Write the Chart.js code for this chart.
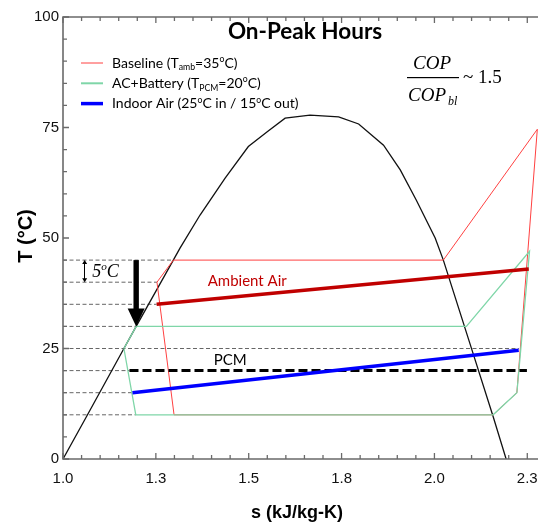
<!DOCTYPE html>
<html>
<head>
<meta charset="utf-8">
<script src="https://cdn.jsdelivr.net/npm/chart.js@4.4.1/dist/chart.umd.min.js"></script>
<style>
  html, body { margin: 0; padding: 0; background: #fff; overflow: hidden; }
  #wrap { width: 538px; height: 526px; overflow: hidden; }
</style>
</head>
<body>
<div id="wrap"><canvas id="tsChart" width="600" height="526"></canvas></div>
<script>
// saturation dome (s in kJ/kg-K, T in C)
const domeS = [1.0, 1.066, 1.164, 1.197, 1.297, 1.315, 1.369, 1.436, 1.499, 1.549, 1.598, 1.665, 1.742, 1.796, 1.863, 1.908, 1.951, 2.002, 2.024, 2.101, 2.158, 2.193];
const domeT = [0, 10, 25, 30, 45, 47.7, 55.2, 63.5, 70.7, 74.0, 77.1, 77.8, 77.4, 75.8, 71.0, 65.4, 58.6, 50, 45, 24.7, 9.6, 0];

// baseline cycle (T_amb = 35C)
const baseS = [1.297, 2.024, 2.277, 2.222, 2.158, 1.299, 1.253, 1.297];
const baseT = [45, 45, 74.6, 15, 10, 10, 40, 45];

// AC + battery cycle (T_PCM = 20C)
const acS = [1.164, 1.197, 2.086, 2.256, 2.222, 2.158, 1.196, 1.164];
const acT = [25, 30, 30, 47, 15, 10, 10, 25];

// air / PCM streams
const ambientS = [1.252, 2.254];
const ambientT = [35, 43];
const indoorS = [1.187, 2.227];
const indoorT = [15, 24.6];
const pcmS = [1.179, 2.249];
const pcmT = [20, 20];

// thin dashed guide lines from the T axis
const guideT = [45, 40, 35, 30, 25, 20, 15, 10];
const guideEndS = [1.297, 1.253, 1.252, 1.197, 2.227, 1.179, 1.187, 1.196];

// ticks
const xTickLabels = ["1.0", "1.3", "1.5", "1.8", "2.0", "2.3"];
const yTickLabels = ["0", "25", "50", "75", "100"];

// annotations
const drop = { s: 1.197, from: 45, to: 30 };        // big arrow
const band = { s: 1.057, from: 45, to: 40 };        // 5C bracket

function pts(xs, ys) {
  return xs.map((x, i) => ({ x: x, y: ys[i] }));
}

// guide segments separated by gaps
const guidePts = [];
guideT.forEach((t, i) => {
  guidePts.push({ x: 1.0, y: t }, { x: guideEndS[i], y: t }, { x: guideEndS[i], y: null });
});

// draws text made of normal / sub / sup pieces
function richText(ctx, parts, x, y, size, family, style) {
  let cx = x;
  ctx.textAlign = "left";
  ctx.textBaseline = "alphabetic";
  parts.forEach(([t, k]) => {
    const fs = k ? size * 0.62 : size;
    ctx.font = (style || "") + " " + fs + "px " + family;
    const dy = k === "sub" ? size * 0.2 : k === "sup" ? -size * 0.38 : 0;
    ctx.fillText(t, cx, y + dy);
    cx += ctx.measureText(t).width;
  });
  return cx;
}

const legendItems = [
  { color: "#ff4040", width: 1, parts: [["Baseline (T", ""], ["amb", "sub"], ["=35", ""], ["o", "sup"], ["C)", ""]] },
  { color: "#7fd6a8", width: 2, parts: [["AC+Battery (T", ""], ["PCM", "sub"], ["=20", ""], ["o", "sup"], ["C)", ""]] },
  { color: "#0000ff", width: 3.5, parts: [["Indoor Air (25", ""], ["o", "sup"], ["C in / 15", ""], ["o", "sup"], ["C out)", ""]] },
];

const decor = {
  id: "decor",
  afterDatasetsDraw(chart) {
    const ctx = chart.ctx;
    const xs = chart.scales.x, ys = chart.scales.y;
    ctx.save();
    ctx.setLineDash([]);

    // frame (left, bottom, top) with inward ticks
    const L = xs.getPixelForValue(1.0);
    const R = xs.getPixelForValue(2.4);
    const B = ys.getPixelForValue(0);
    const T = ys.getPixelForValue(100);
    ctx.strokeStyle = "#6a6a6a";
    ctx.lineWidth = 1.6;
    ctx.beginPath();
    ctx.moveTo(R, T);
    ctx.lineTo(L, T);
    ctx.lineTo(L, B);
    ctx.lineTo(R, B);
    ctx.stroke();
    ctx.lineWidth = 1.3;
    ctx.beginPath();
    for (let i = 0; i <= 28; i++) {
      const px = xs.getPixelForValue(1.0 + i * 0.05);
      const len = i % 5 === 0 ? 6 : 4;
      ctx.moveTo(px, B); ctx.lineTo(px, B - len);
      ctx.moveTo(px, T); ctx.lineTo(px, T + len);
    }
    for (let i = 0; i <= 20; i++) {
      const py = ys.getPixelForValue(i * 5);
      const len = i % 5 === 0 ? 6 : 4;
      ctx.moveTo(L, py); ctx.lineTo(L + len, py);
    }
    ctx.stroke();

    // big arrow
    const ax = xs.getPixelForValue(drop.s);
    const ay0 = ys.getPixelForValue(drop.from);
    const ay1 = ys.getPixelForValue(drop.to);
    ctx.fillStyle = "#000";
    ctx.fillRect(ax - 2.7, ay0, 5.4, ay1 - ay0 - 17);
    ctx.beginPath();
    ctx.moveTo(ax - 8.5, ay1 - 18);
    ctx.lineTo(ax + 8.5, ay1 - 18);
    ctx.lineTo(ax, ay1);
    ctx.closePath();
    ctx.fill();

    // 5C bracket
    const bx = xs.getPixelForValue(band.s);
    const by0 = ys.getPixelForValue(band.from);
    const by1 = ys.getPixelForValue(band.to);
    ctx.fillRect(Math.round(bx), by0 + 2, 1, by1 - by0 - 4);
    ctx.beginPath();
    ctx.moveTo(bx + 0.5, by0); ctx.lineTo(bx - 2, by0 + 4); ctx.lineTo(bx + 3, by0 + 4); ctx.closePath();
    ctx.moveTo(bx + 0.5, by1); ctx.lineTo(bx - 2, by1 - 4); ctx.lineTo(bx + 3, by1 - 4); ctx.closePath();
    ctx.fill();
    richText(ctx, [["5", ""], ["o", "sup"], ["C", ""]], bx + 8, (by0 + by1) / 2 + 6, 18, "'Liberation Serif'", "italic");

    // curve labels
    ctx.textAlign = "center";
    ctx.textBaseline = "middle";
    ctx.font = "15px Lato";
    ctx.fillStyle = "#c00000";
    ctx.fillText("Ambient Air", xs.getPixelForValue(1.496), ys.getPixelForValue(40.3));
    ctx.fillStyle = "#000";
    ctx.fillText("PCM", xs.getPixelForValue(1.45), ys.getPixelForValue(22.4));

    ctx.restore();
  },
  afterDraw(chart) {
    const ctx = chart.ctx;
    ctx.save();

    // title
    ctx.fillStyle = "#000";
    ctx.textAlign = "center";
    ctx.textBaseline = "middle";
    ctx.font = "bold 22.5px Lato";
    ctx.fillText("On-Peak Hours", 305, 32);

    // axis titles
    ctx.font = "bold 18px 'Liberation Sans'";
    ctx.fillText("s (kJ/kg-K)", 297, 513);
    ctx.save();
    ctx.translate(26, 236);
    ctx.rotate(-Math.PI / 2);
    ctx.font = "bold 20px 'Liberation Sans'";
    ctx.fillText("T (\u00B0C)", 0, 0);
    ctx.restore();

    // legend
    legendItems.forEach((it, i) => {
      const ly = 63 + i * 20.3;
      ctx.setLineDash([]);
      ctx.strokeStyle = it.color;
      ctx.lineWidth = it.width;
      ctx.beginPath();
      ctx.moveTo(81, ly);
      ctx.lineTo(103, ly);
      ctx.stroke();
      ctx.fillStyle = "#000";
      richText(ctx, it.parts, 112, ly + 4.5, 14, "Lato", "");
    });

    // COP ratio
    ctx.fillStyle = "#000";
    ctx.font = "italic 19px 'Liberation Serif'";
    ctx.textAlign = "left";
    ctx.textBaseline = "alphabetic";
    ctx.fillText("COP", 413, 69);
    ctx.fillRect(407, 77, 52, 1.2);
    ctx.fillText("COP", 408, 101);
    ctx.font = "italic 12px 'Liberation Serif'";
    ctx.fillText("bl", 448, 105);
    ctx.font = "19px 'Liberation Serif'";
    ctx.fillText("~ 1.5", 463, 83);

    ctx.restore();
  }
};

const ctx1 = document.getElementById("tsChart").getContext("2d");

const tsChart = new Chart(ctx1, {
  type: "scatter",
  data: {
    datasets: [
      { data: pts(ambientS, ambientT), borderColor: "#c00000", borderWidth: 3.5 },
      { data: pts(indoorS, indoorT), borderColor: "#0000ff", borderWidth: 3.5 },
      { data: pts(pcmS, pcmT), borderColor: "#000", borderWidth: 3, borderDash: [9, 4] },
      { data: pts(acS, acT), borderColor: "#7fd6a8", borderWidth: 1.3 },
      { data: pts(baseS, baseT), borderColor: "#ff4040", borderWidth: 1 },
      { data: pts(domeS, domeT), borderColor: "#111", borderWidth: 1.3 },
      { data: guidePts, borderColor: "#666", borderWidth: 1, borderDash: [4, 2.5], spanGaps: false },
    ],
  },
  options: {
    responsive: false,
    animation: false,
    showLine: true,
    elements: { point: { radius: 0 }, line: { tension: 0 } },
    layout: { padding: { top: 17, left: 0, right: 17, bottom: 0 } },
    plugins: { legend: { display: false }, tooltip: { enabled: false } },
    scales: {
      x: {
        type: "linear",
        min: 1.0,
        max: 2.4,
        grid: { display: false, drawTicks: false },
        border: { display: false },
        afterFit(scale) { scale.height = 67; },
        ticks: {
          stepSize: 0.25,
          includeBounds: false,
          maxRotation: 0,
          padding: 11,
          color: "#111",
          font: { family: "'Liberation Sans'", size: 15 },
          callback: (v) => xTickLabels[Math.round((v - 1.0) / 0.25)],
        },
      },
      y: {
        type: "linear",
        min: 0,
        max: 100,
        grid: { display: false, drawTicks: false },
        border: { display: false },
        afterFit(scale) { scale.width = 63; },
        ticks: {
          stepSize: 25,
          padding: 4,
          color: "#111",
          font: { family: "'Liberation Sans'", size: 15 },
          callback: (v) => yTickLabels[Math.round(v / 25)],
        },
      },
    },
  },
  plugins: [decor],
});
</script>
</body>
</html>
